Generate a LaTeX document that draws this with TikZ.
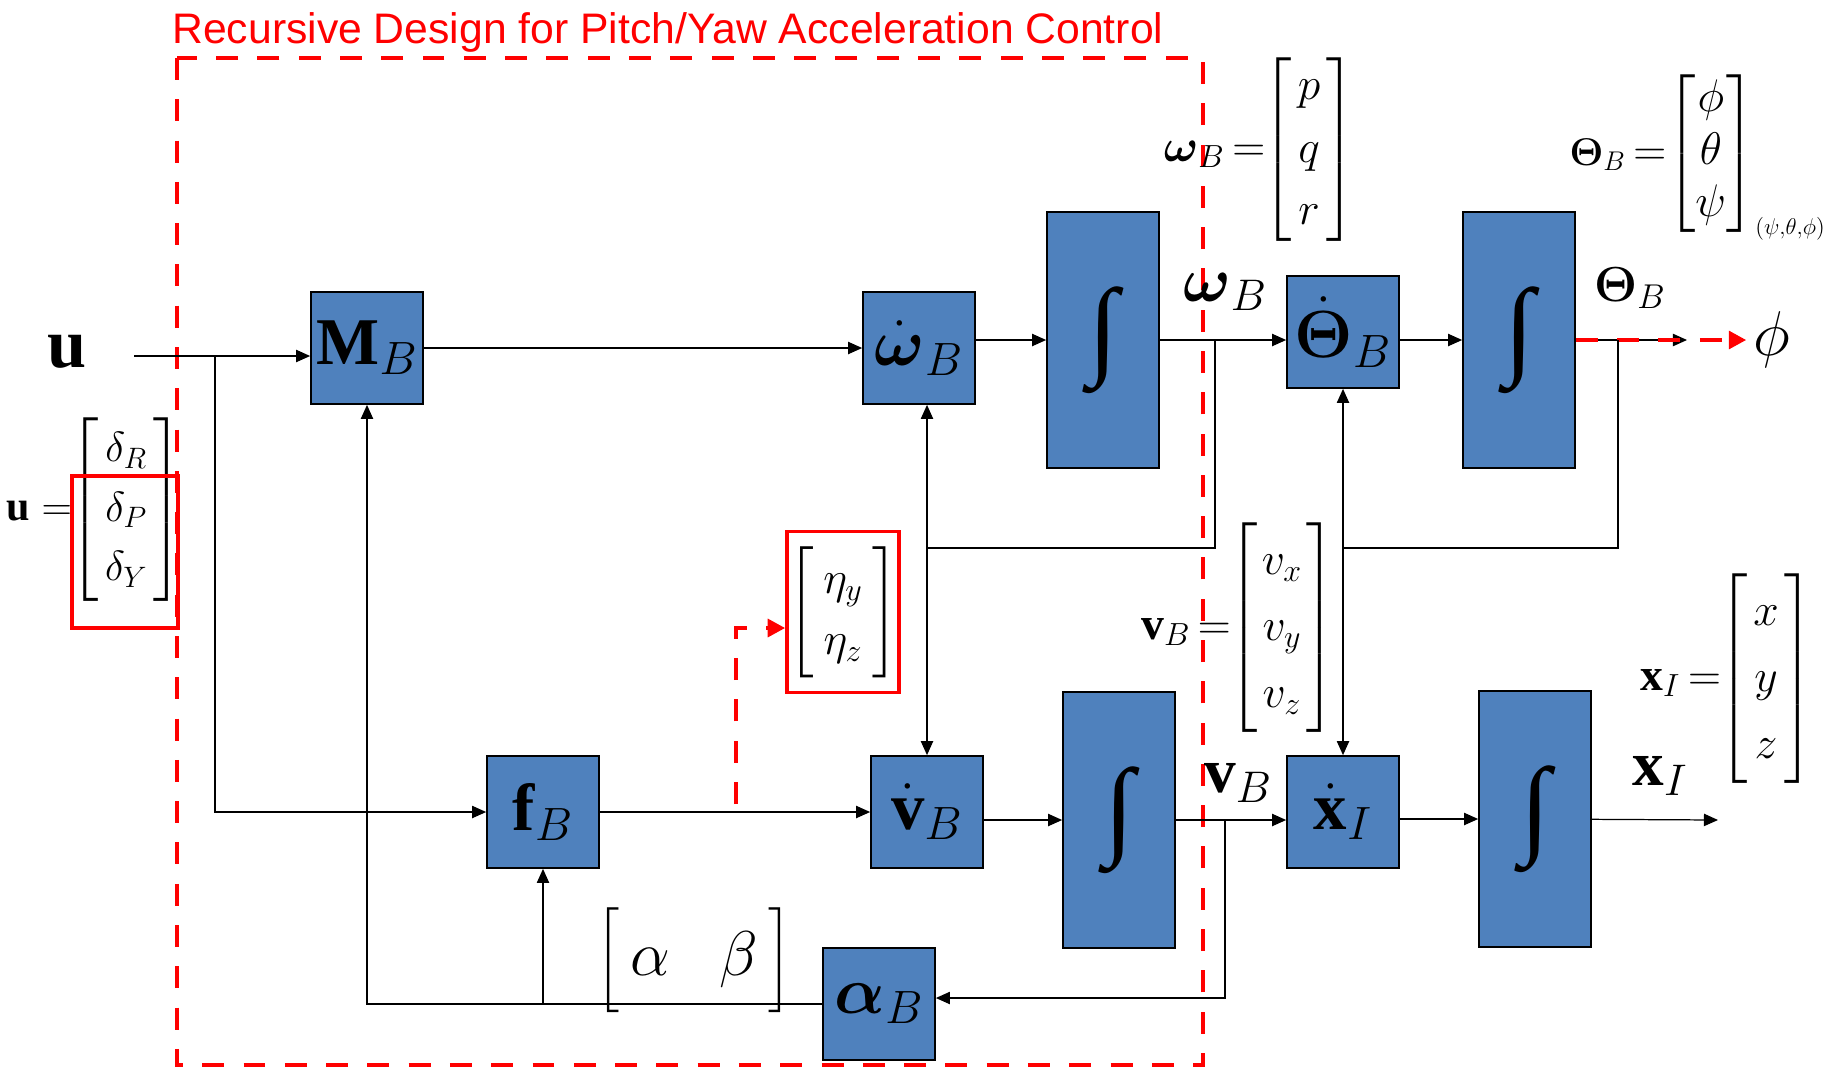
\RequirePackage{fix-cm}
\documentclass[tikz,border=0pt]{standalone}
\usepackage{amsmath}
\usepackage{fontspec}
\setmainfont{Liberation Serif}
\setsansfont{Liberation Sans}
\usetikzlibrary{arrows.meta}
\definecolor{boxblue}{HTML}{4F81BD}

% column vector: stretch, side padding, entries
\newcommand{\vcol}[3]{{\renewcommand{\arraystretch}{#1}%
  \left[\begin{array}{@{\hspace{#2}}c@{\hspace{#2}}}#3\end{array}\right]}}

\tikzset{
  blk/.style={draw, line width=1pt, fill=boxblue, minimum width=2.24cm,
    minimum height=2.24cm, inner sep=0pt, font=\fontsize{38}{44}\selectfont},
  intblk/.style={blk, minimum height=5.12cm, font=\fontsize{62}{62}\selectfont},
  sig/.style={line width=0.7pt},
  reddash/.style={red, line width=2.8pt, dash pattern=on 12.5pt off 11pt},
  redhead/.style={-{Triangle[length=10pt,width=10pt]}},
  eqn/.style={anchor=base east, inner sep=0pt, font=\fontsize{26}{30}\selectfont},
  lbl/.style={font=\fontsize{36}{40}\selectfont}
}

\begin{document}
\begin{tikzpicture}[x=0.02cm, y=-0.02cm, >={Triangle[length=8pt,width=7pt]}]
    \useasboundingbox (0,0) rectangle (1831,1069);

    % Title and design region
    \node[anchor=base west, inner sep=0pt, text=red, font=\sffamily\fontsize{24.3}{28}\selectfont]
        (title) at (172,43) {Recursive Design for Pitch/Yaw Acceleration Control};
    \draw[reddash] (177,58) rectangle (1203,1065);

    % Blocks
    \node[blk] (MB) at (367,348) {$\mathbf{M}_B$};
    \node[blk] (wdot) at (919,348) {$\dot{\boldsymbol{\omega}}_B$};
    \node[intblk] (int1) at (1103,340) {∫};
    \node[blk] (Thdot) at (1343,332) {$\dot{\boldsymbol{\Theta}}_B$};
    \node[intblk] (int2) at (1519,340) {∫};
    \node[blk] (fB) at (543,812) {$\mathbf{f}_B$};
    \node[blk] (vdot) at (927,812) {$\dot{\mathbf{v}}_B$};
    \node[intblk] (int3) at (1119,820) {∫};
    \node[blk] (xdot) at (1343,812) {$\dot{\mathbf{x}}_I$};
    \node[intblk] (int4) at (1535,819) {∫};
    \node[blk] (alphaB) at (879,1004) {$\boldsymbol{\alpha}_B$};

    % Signal labels
    \node[lbl, font=\fontsize{40}{44}\selectfont] (uLbl) at (67,352) {$\mathbf{u}$};
    \node[lbl] (wLbl) at (1225,292) {$\boldsymbol{\omega}_B$};
    \node[lbl, font=\fontsize{28}{32}\selectfont] (thLbl) at (1630,288) {$\boldsymbol{\Theta}_B$};
    \node[lbl] (vLbl) at (1238,783) {$\mathbf{v}_B$};
    \node[lbl] (xLbl) at (1660,776) {$\mathbf{x}_I$};
    \node[lbl, inner sep=4pt] (phiLbl) at (1772,340) {$\phi$};
    \node[lbl, font=\fontsize{36}{37}\selectfont] (abLbl) at (694,960) {$\Bigl[\,\alpha\enspace\;\beta\,\Bigr]$};

    % Vector definitions
    \node[eqn, font=\fontsize{24}{28}\selectfont] (uEq) at (183,520)
        {$\mathbf{u} =\mkern-6mu \vcol{1.21}{3.5pt}{\delta_R\\ \delta_P\\ \delta_Y}$};
    \draw[red, line width=2.3pt] (72,476) rectangle (178,628);
    \node[eqn] (wEq) at (1356,161)
        {$\boldsymbol{\omega}_B\mkern-2mu =\mkern-6mu \vcol{1.18}{3.5pt}{p\\ q\\ r}$};
    \node[eqn] (thEq) at (1826,165)
        {{\fontsize{22}{26}\selectfont$\boldsymbol{\Theta}_B$}$\mkern3mu =\mkern-5mu
         \vcol{1.0}{0pt}{\phi\\ \theta\\ \psi}_{\scriptscriptstyle(\psi,\theta,\phi)}$};
    \node[eqn] (vEq) at (1336,639)
        {$\mathbf{v}_B\mkern-2mu =\mkern-6mu \vcol{1.26}{2.5pt}{v_x\\ v_y\\ v_z}$};
    \node[eqn] (xEq) at (1814,690)
        {$\mathbf{x}_I\mkern-2mu =\mkern-6mu \vcol{1.26}{3.3pt}{x\\ y\\ z}$};
    \node[draw=red, line width=2pt, minimum width=2.24cm, minimum height=3.22cm, inner sep=0pt,
        font=\fontsize{26}{30}\selectfont] (eta) at (843,612)
        {$\vcol{1.16}{5.5pt}{\eta_y\\ \eta_z}$};

    % Forward path, attitude
    \coordinate (uIn) at (134,356);
    \coordinate (thOut) at (1687,340);
    \draw[sig,->] (uIn) -- (uIn -| MB.west);
    \draw[sig,->] (MB) -- (wdot);
    \draw[sig,->] (wdot.east |- int1) -- (int1);
    \draw[sig,->] (int1) -- (int1 -| Thdot.west);
    \draw[sig,->] (Thdot.east |- int2) -- (int2);
    \draw[sig,->] (int2) -- (thOut);
    \draw[reddash, redhead] (int2) -- (phiLbl);

    % Feedback of omega and Theta
    \coordinate (jw) at (1215,340);
    \coordinate (jw2) at (1215,548);
    \draw[sig] (jw) -- (jw2) -- (jw2 -| vdot.north);
    \draw[sig,<->] (vdot.north |- wdot.south) -- (vdot.north);
    \coordinate (jth) at (1618,340);
    \coordinate (jth2) at (1618,548);
    \draw[sig] (jth) -- (jth2) -- (jth2 -| Thdot.south);
    \draw[sig,<->] (Thdot.south) -- (xdot.north);

    % Forward path, translation
    \coordinate (ju) at (215,356);
    \coordinate (xOut) at (1718,820);
    \draw[sig,->] (ju) |- (fB);
    \draw[sig,->] (fB) -- (vdot);
    \draw[sig,->] (vdot.east |- int3) -- (int3);
    \draw[sig,->] (int3) -- (int3 -| xdot.west);
    \draw[sig,->] (xdot.east |- int4) -- (int4);
    \draw[sig,->] (int4) -- (xOut);

    % Velocity feedback through alpha, beta
    \coordinate (jv) at (1225,820);
    \coordinate (jv2) at (1225,998);
    \draw[sig,->] (jv) -- (jv2) -- (jv2 -| alphaB.east);
    \draw[sig,->] (alphaB) -| (MB);
    \draw[sig,->] (fB.south |- alphaB.west) -- (fB);

    % Disturbance tap
    \coordinate (etaIn) at (736,804);
    \coordinate (etaCorner) at (736,628);
    \draw[reddash, redhead] (etaIn) -- (etaCorner) -- (etaCorner -| eta.west);
\end{tikzpicture}
\end{document}
